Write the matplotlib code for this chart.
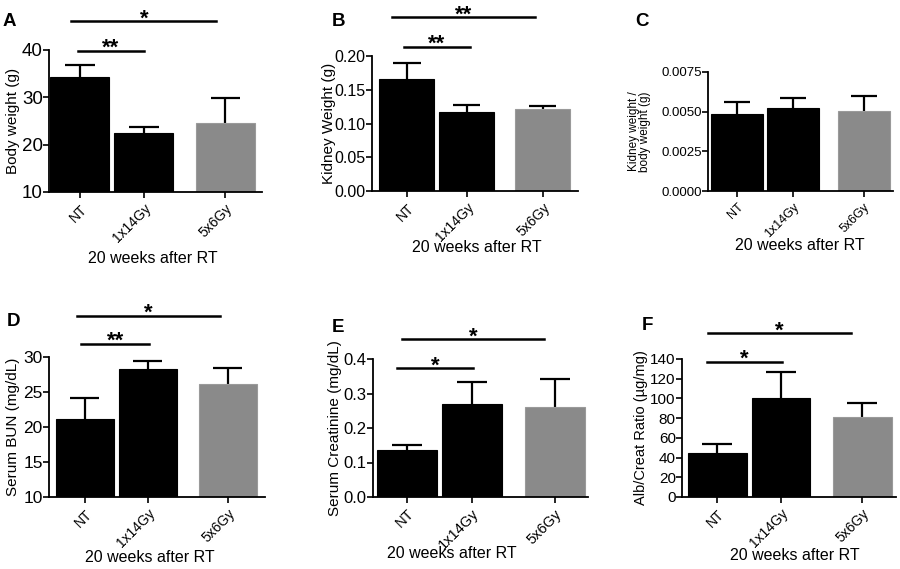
import numpy as np
import matplotlib
matplotlib.use("Agg")
import matplotlib.pyplot as plt
from matplotlib.ticker import FormatStrFormatter

plt.rcParams['font.family'] = ['Liberation Sans', 'DejaVu Sans']

groups = ["NT", "1x14Gy", "5x6Gy"]
xpos = [0.0, 1.0, 2.27]
bar_colors = ["#000000", "#000000", "#8a8a8a"]

body_weight = [34.4, 22.5, 24.6]
body_weight_err = [2.4, 1.2, 5.2]

kidney_weight = [0.166, 0.1175, 0.122]
kidney_weight_err = [0.023, 0.0095, 0.004]

kidney_ratio = [0.00488, 0.00524, 0.00503]
kidney_ratio_err = [0.00073, 0.00059, 0.00094]

serum_bun = [21.2, 28.35, 26.1]
serum_bun_err = [3.0, 1.15, 2.4]

serum_creat = [0.135, 0.270, 0.261]
serum_creat_err = [0.016, 0.062, 0.081]

alb_creat = [45.1, 100.2, 81.0]
alb_creat_err = [8.5, 26.8, 14.2]

# (letter, values, errors, ylabel, yticks, fmt, axes px box, xlim, ytick fs, xtick fs, ylabel fs, ylabel x)
panels = [
    ("A", body_weight, body_weight_err, "Body weight (g)", [10, 20, 30, 40], "%d",
     (49, 50, 262, 192), (-0.48, 2.84), 13.5, 10, 11, -0.134),
    ("B", kidney_weight, kidney_weight_err, "Kidney Weight (g)", [0, 0.05, 0.10, 0.15, 0.20], "%.2f",
     (372, 56, 578, 191), (-0.58, 2.86), 11.5, 10, 11, -0.177),
    ("C", kidney_ratio, kidney_ratio_err, "Kidney weight /\nbody weight (g)", [0, 0.0025, 0.005, 0.0075], "%.4f",
     (708, 72, 893, 191), (-0.52, 2.79), 9.5, 9, 8.5, -0.31),
    ("D", serum_bun, serum_bun_err, "Serum BUN (mg/dL)", [10, 15, 20, 25, 30], "%d",
     (49, 357, 265, 497), (-0.57, 2.86), 12.5, 10, 11, -0.132),
    ("E", serum_creat, serum_creat_err, "Serum Creatinine (mg/dL)", [0, 0.1, 0.2, 0.3, 0.4], "%.1f",
     (373, 359, 588, 497), (-0.52, 2.78), 12, 10.5, 11, -0.142),
    ("F", alb_creat, alb_creat_err, "Alb/Creat Ratio (\u00b5g/mg)", [0, 20, 40, 60, 80, 100, 120, 140], "%d",
     (682, 359, 896, 497), (-0.55, 2.8), 11, 10, 10.5, -0.16),
]

# significance brackets: (x0, x1, y, stars)
sig = {
    "A": [(-0.03, 1.0, 39.85, "**"), (-0.13, 2.13, 46.1, "*")],
    "B": [(-0.05, 1.05, 0.2138, "**"), (-0.25, 2.15, 0.258, "**")],
    "C": [],
    "D": [(-0.06, 1.02, 31.9, "**"), (-0.13, 2.14, 35.9, "*")],
    "E": [(-0.15, 1.01, 0.374, "*"), (-0.08, 2.11, 0.458, "*")],
    "F": [(-0.16, 1.02, 137.3, "*"), (-0.14, 2.1, 166.6, "*")],
}
letter_pos = {"A": (3, 22), "B": (332, 22), "C": (635, 21),
              "D": (7, 322), "E": (332, 327), "F": (642, 325)}
xlabel_pos = {"A": (153, 258), "B": (477, 248), "C": (800, 245),
              "D": (150, 558), "E": (452, 553), "F": (795, 555)}

W, H = 900, 569
fig = plt.figure(figsize=(9, 5.69), dpi=100)

for letter, vals, errs, ylab, yt, fmt, box, xl, yfs, xfs, lfs, lx in panels:
    x0, y0, x1, y1 = box
    ax = fig.add_axes([x0 / W, (H - y1) / H, (x1 - x0) / W, (y1 - y0) / H])
    ax.bar(xpos, vals, width=0.92, color=bar_colors,
           edgecolor=["#000000", "#000000", "#9a9a9a"], linewidth=0.8, zorder=2)
    tops = np.array(vals) + np.array(errs)
    ax.vlines(xpos, vals, tops, color="black", lw=1.6, zorder=1)
    ax.hlines(tops, np.array(xpos) - 0.23, np.array(xpos) + 0.23, color="black", lw=1.6, zorder=1)
    ax.set_ylim(yt[0], yt[-1])
    ax.set_yticks(yt)
    ax.yaxis.set_major_formatter(FormatStrFormatter(fmt))
    ax.set_xlim(*xl)
    ax.set_xticks(xpos)
    ax.set_xticklabels(groups, rotation=45, ha="right", rotation_mode="anchor", fontsize=xfs)
    ax.tick_params(axis="y", labelsize=yfs, width=1.2, length=4, pad=0.5)
    ax.tick_params(axis="x", width=1.2, length=4, pad=3)
    for s in ["top", "right"]:
        ax.spines[s].set_visible(False)
    for s in ["left", "bottom"]:
        ax.spines[s].set_linewidth(1.3)
    ax.set_ylabel(ylab, fontsize=lfs, linespacing=0.9)
    ax.yaxis.set_label_coords(lx, 0.5)
    for a, b, y, stars in sig[letter]:
        ax.plot([a, b], [y, y], color="black", lw=1.8, clip_on=False)
        ax.annotate(stars, xy=((a + b) / 2, y), xytext=(0, -2.5), textcoords="offset points",
                    ha="center", va="baseline", fontsize=16, fontweight="bold",
                    annotation_clip=False)
    px, py = letter_pos[letter]
    fig.text(px / W, 1 - py / H, letter, fontsize=13.5, fontweight="bold",
             ha="left", va="center")
    tx, ty = xlabel_pos[letter]
    fig.text(tx / W, 1 - ty / H, "20 weeks after RT", fontsize=11.5,
             ha="center", va="center")

fig.savefig("out.png", dpi=100)
